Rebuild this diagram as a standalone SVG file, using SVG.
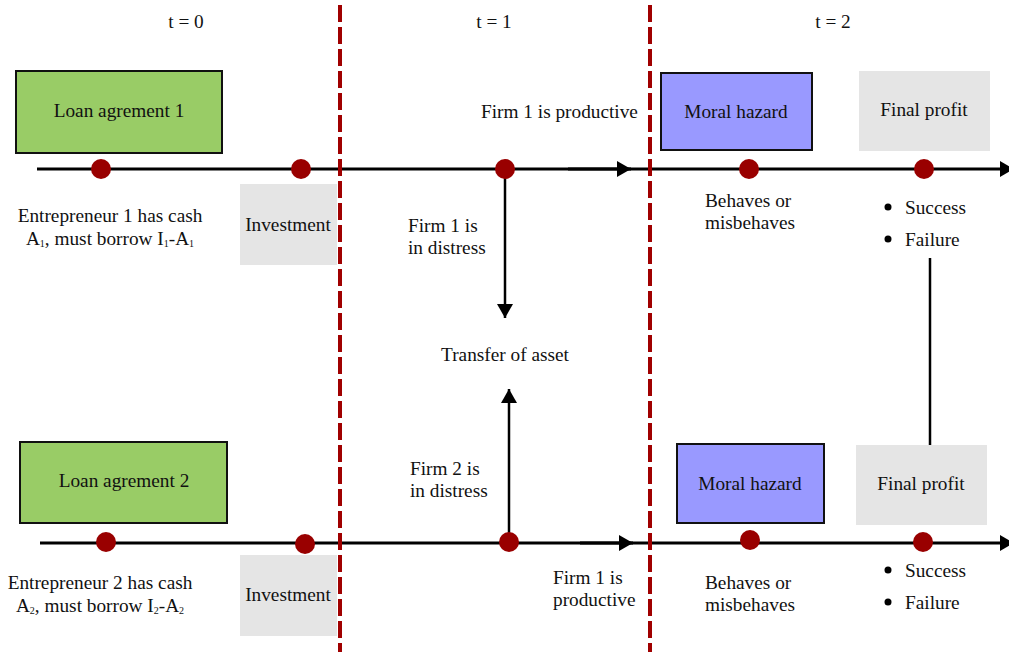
<svg xmlns="http://www.w3.org/2000/svg" width="1009" height="652" viewBox="0 0 1009 652">
<style>
text{font-family:"Liberation Serif","Times New Roman",serif;font-size:19.3px;fill:#111}
.c{text-anchor:middle}
.green{fill:#99cc66;stroke:#111;stroke-width:2}
.blue{fill:#9999ff;stroke:#111;stroke-width:2}
.grey{fill:#e5e5e5}
.tl{stroke:#000;stroke-width:3;fill:none}
.dash{stroke:#a00000;stroke-width:4;stroke-dasharray:17,5;fill:none}
.dot{fill:#990000}
.ln{stroke:#000;stroke-width:2.5;fill:none}
.sub{font-size:10px}
</style>
<defs>
<marker id="ahv" markerWidth="14" markerHeight="16" refX="14" refY="8" orient="auto" markerUnits="userSpaceOnUse" viewBox="0 0 14 16"><path d="M0,0 L14,8 L0,16 z" fill="#000"/></marker>
</defs>
<g id="headers">
<text x="186" y="28" class="c">t = 0</text>
<text x="494" y="28" class="c">t = 1</text>
<text x="833" y="28" class="c">t = 2</text>
</g>
<g id="connectors">
<line class="tl" x1="37" y1="169" x2="1014" y2="169" marker-end="url(#ahv)"/>
<line class="tl" x1="568" y1="169" x2="631" y2="169" stroke-width="4" marker-end="url(#ahv)"/>
<line class="tl" x1="40" y1="543" x2="1014" y2="543" marker-end="url(#ahv)"/>
<line class="tl" x1="580" y1="543" x2="633" y2="543" marker-end="url(#ahv)"/>
<line class="ln" x1="505" y1="169" x2="505" y2="318" marker-end="url(#ahv)"/>
<line class="ln" x1="509" y1="542" x2="509" y2="389" marker-end="url(#ahv)"/>
<line class="ln" x1="930" y1="258" x2="930" y2="445" stroke-width="2"/>
<line class="dash" x1="340" y1="5" x2="340" y2="652"/>
<line class="dash" x1="650" y1="5" x2="650" y2="652"/>
</g>
<g id="dots">
<circle class="dot" cx="101" cy="169" r="10"/>
<circle class="dot" cx="301" cy="169" r="10"/>
<circle class="dot" cx="505" cy="169" r="10"/>
<circle class="dot" cx="749" cy="169" r="10"/>
<circle class="dot" cx="924" cy="169" r="10"/>
<circle class="dot" cx="106" cy="542" r="10"/>
<circle class="dot" cx="305" cy="544" r="10"/>
<circle class="dot" cx="509" cy="542" r="10"/>
<circle class="dot" cx="750" cy="540" r="10"/>
<circle class="dot" cx="923" cy="542" r="10"/>
</g>
<g id="loan1"><rect class="green" x="16" y="71" width="206" height="82"/><text x="119" y="117" class="c">Loan agrement 1</text></g>
<g id="invest1"><rect class="grey" x="240" y="184" width="97" height="81"/><text x="288" y="231" class="c">Investment</text></g>
<g id="moral1"><rect class="blue" x="661" y="73" width="151" height="77"/><text x="736" y="118" class="c">Moral hazard</text></g>
<g id="profit1"><rect class="grey" x="859" y="71" width="131" height="80"/><text x="924" y="116" class="c">Final profit</text></g>
<g id="loan2"><rect class="green" x="20" y="442" width="207" height="81"/><text x="124" y="487" class="c">Loan agrement 2</text></g>
<g id="invest2"><rect class="grey" x="240" y="555" width="97" height="81"/><text x="288" y="601" class="c">Investment</text></g>
<g id="moral2"><rect class="blue" x="677" y="444" width="147" height="79"/><text x="750" y="490" class="c">Moral hazard</text></g>
<g id="profit2"><rect class="grey" x="856" y="445" width="131" height="80"/><text x="921" y="490" class="c">Final profit</text></g>
<g id="labels">
<text x="110" y="222" class="c">Entrepreneur 1 has cash</text>
<text x="110" y="245" class="c">A<tspan class="sub" dy="2">1</tspan><tspan dy="-2">, must borrow I</tspan><tspan class="sub" dy="2">1</tspan><tspan dy="-2">-A</tspan><tspan class="sub" dy="2">1</tspan></text>
<text x="100" y="589" class="c">Entrepreneur 2 has cash</text>
<text x="100" y="612" class="c">A<tspan class="sub" dy="2">2</tspan><tspan dy="-2">, must borrow I</tspan><tspan class="sub" dy="2">2</tspan><tspan dy="-2">-A</tspan><tspan class="sub" dy="2">2</tspan></text>
<text x="481" y="118">Firm 1 is productive</text>
<text x="408" y="232">Firm 1 is</text>
<text x="408" y="254">in distress</text>
<text x="505" y="361" class="c">Transfer of asset</text>
<text x="410" y="475">Firm 2 is</text>
<text x="410" y="497">in distress</text>
<text x="553" y="584">Firm 1 is</text>
<text x="553" y="606">productive</text>
<text x="705" y="207">Behaves or</text>
<text x="705" y="229">misbehaves</text>
<text x="705" y="589">Behaves or</text>
<text x="705" y="611">misbehaves</text>
<circle cx="888" cy="207" r="3.5" fill="#000"/><text x="905" y="214">Success</text>
<circle cx="888" cy="239" r="3.5" fill="#000"/><text x="905" y="246">Failure</text>
<circle cx="888" cy="570" r="3.5" fill="#000"/><text x="905" y="577">Success</text>
<circle cx="888" cy="602" r="3.5" fill="#000"/><text x="905" y="609">Failure</text>
</g>
</svg>
